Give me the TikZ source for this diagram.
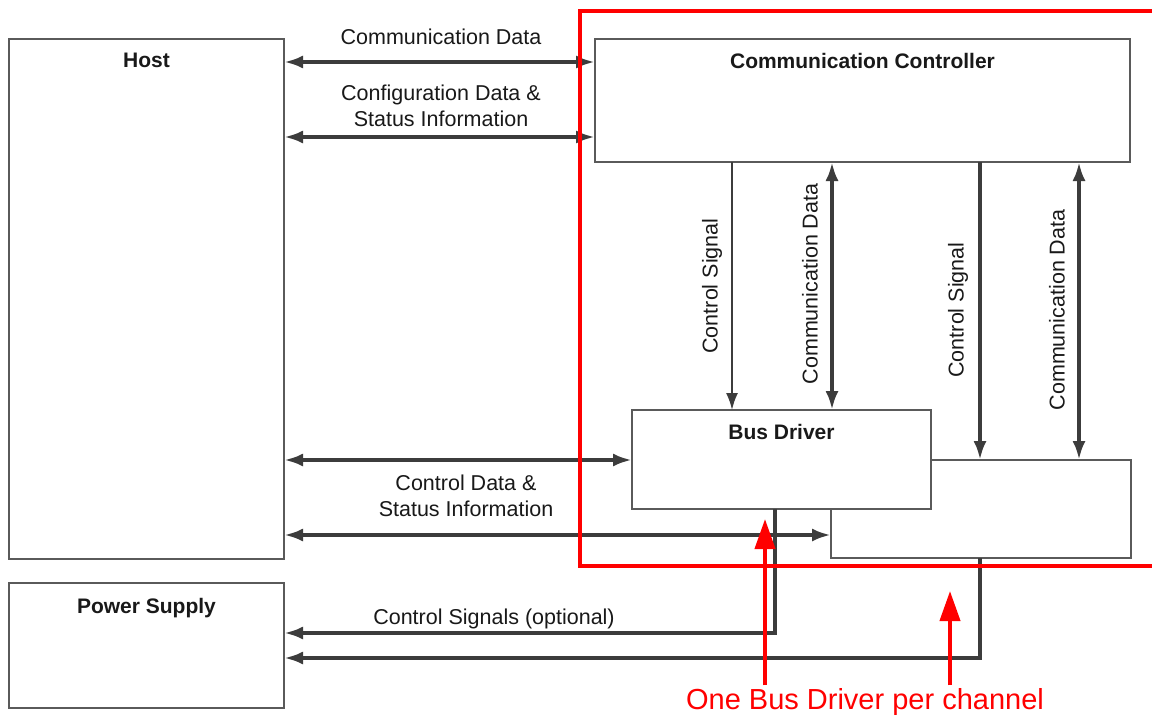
\documentclass[tikz,border=0pt]{standalone}
\usepackage{fontspec}
\setmainfont{Liberation Sans}
\usetikzlibrary{arrows.meta}
\definecolor{arrgray}{RGB}{60,60,60}
\definecolor{boxgray}{RGB}{90,90,90}
\definecolor{txt}{RGB}{25,25,25}
\definecolor{hired}{RGB}{255,0,0}
\begin{document}
\begin{tikzpicture}[x=1pt,y=-1pt,
  box/.style={draw=boxgray, line width=1.2pt, fill=white, inner sep=0pt, outer sep=0pt},
  title/.style={anchor=north, inner sep=0pt, text=txt, font=\bfseries\fontsize{21}{25}\selectfont},
  lbl/.style={inner sep=0pt, text=txt, align=center, font=\fontsize{21.5}{26}\selectfont},
  conn/.style={draw=arrgray, line width=3.8pt},
  tip/.tip={Latex[length=19pt,width=13pt]},
  dbl/.style={conn, tip-tip},
  one/.style={conn, -tip},
  thinone/.style={draw=arrgray, line width=2pt, -{Latex[length=17pt,width=12pt]}},
  redline/.style={draw=hired, line width=3.5pt},
  redarr/.style={draw=hired, line width=4pt, -{Triangle[length=30pt,width=20pt]}}
]
\useasboundingbox (0,0) rectangle (1152,717);
\fill[white] (0,0) rectangle (1152,717);

% boxes
\node[box, minimum width=275pt, minimum height=520pt] (host) at (146.5,299) {};
\node[title] (hostT) at ([yshift=-14pt]host.north) {Host};
\node[box, minimum width=275pt, minimum height=125pt] (ps) at (146.5,645.5) {};
\node[title] (psT) at ([yshift=-15pt]ps.north) {Power Supply};
\node[box, minimum width=535pt, minimum height=123pt] (cc) at (862.5,100.5) {};
\node[title] (ccT) at ([yshift=-14pt]cc.north) {Communication Controller};
\node[box, minimum width=300pt, minimum height=98pt] (bd2) at (981,509) {};
\node[box, minimum width=299pt, minimum height=99pt] (bd) at (781.5,459.5) {};
\node[title] (bdT) at ([yshift=-14pt]bd.north) {Bus Driver};

% host <-> controller
\draw[dbl] (host.east |- 0,62) -- (cc.west |- 0,62);
\node[lbl] (l1) at (441,37) {Communication Data};
\draw[dbl] (host.east |- 0,137) -- (cc.west |- 0,137);
\node[lbl] (l2) at (441,106) {Configuration Data \&\\Status Information};

% host <-> bus drivers
\draw[dbl] (host.east |- 0,460) -- (bd.west |- 0,460);
\draw[dbl] (host.east |- 0,535) -- (bd2.west |- 0,535);
\node[lbl] (l3) at (466,496) {Control Data \&\\Status Information};

% controller <-> bus drivers
\draw[thinone] (cc.south -| 732,0) -- (bd.north -| 732,0);
\node[lbl, rotate=90] (l4) at (712,286) {Control Signal};
\draw[dbl] (cc.south -| 832,0) -- (bd.north -| 832,0);
\node[lbl, rotate=90] (l5) at (810,284) {Communication Data};
\draw[one] (cc.south -| 980,0) -- (bd2.north -| 980,0);
\node[lbl, rotate=90] (l6) at (958,310) {Control Signal};
\draw[dbl] (cc.south -| 1079,0) -- (bd2.north -| 1079,0);
\node[lbl, rotate=90] (l7) at (1057,310) {Communication Data};

% bus drivers -> power supply
\draw[one] (bd.south -| 775,0) -- (775,633) -- (ps.east |- 0,633);
\node[lbl] (l8) at (494,619) {Control Signals (optional)};
\draw[one] (bd2.south -| 980,0) -- (980,658) -- (ps.east |- 0,658);

% red annotation
\draw[redline] (1160,11) -- (580,11) -- (580,566) -- (1160,566);
\node[inner sep=0pt, text=hired, font=\fontsize{29}{33}\selectfont] (note) at (865,702) {One Bus Driver per channel};
\coordinate (r1) at (765,519);
\coordinate (r2) at (950,591);
\draw[redarr] (note.north -| 765,0) ++(0,-3) -- (r1);
\draw[redarr] (note.north -| 950,0) ++(0,-3) -- (r2);
\end{tikzpicture}
\end{document}
